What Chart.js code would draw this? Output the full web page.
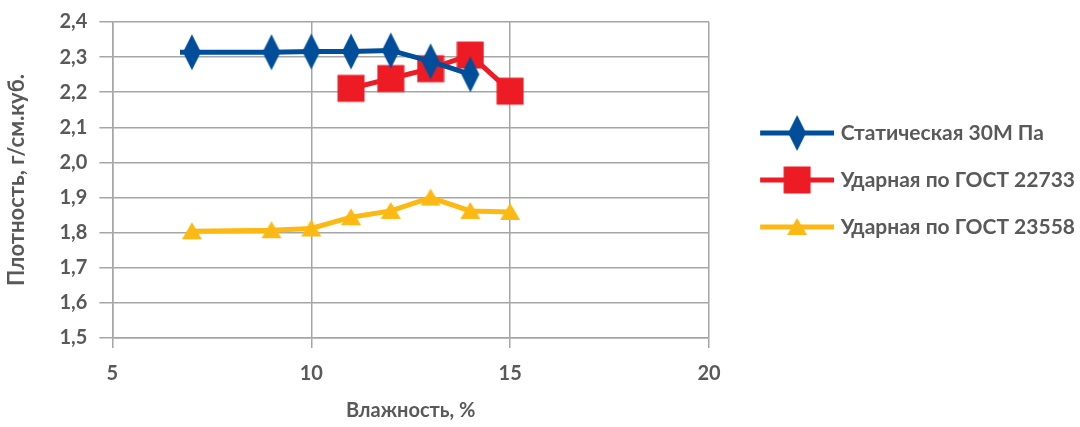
<!DOCTYPE html>
<html>
<head>
<meta charset="utf-8">
<script src="https://cdn.jsdelivr.net/npm/chart.js@4.4.0/dist/chart.umd.min.js"></script>
<style>
  html, body { margin: 0; padding: 0; background: #fff; }
  #wrap { width: 1080px; height: 427px; }
</style>
</head>
<body>
<div id="wrap"><canvas id="chart" width="1080" height="427"></canvas></div>
<script>
/* --- данные --- */
const seriesNames = ["Статическая 30М Па", "Ударная по ГОСТ 22733", "Ударная по ГОСТ 23558"];

const staticX = [6.7, 7, 9, 10, 11, 12, 13, 14];
const staticY = [2.314, 2.314, 2.314, 2.316, 2.316, 2.319, 2.288, 2.251];

const gost22733X = [11, 12, 13, 14, 15];
const gost22733Y = [2.211, 2.239, 2.267, 2.306, 2.203];

const gost23558X = [7, 9, 10, 11, 12, 13, 14, 15];
const gost23558Y = [1.804, 1.807, 1.812, 1.844, 1.862, 1.900, 1.862, 1.859];

const xTicks = [5, 10, 15, 20];
const yTicks = [1.5, 1.6, 1.7, 1.8, 1.9, 2.0, 2.1, 2.2, 2.3, 2.4];

const xTitle = "Влажность, %";
const yTitle = "Плотность, г/см.куб.";

/* --- оформление --- */
const BLUE = "#004E9A";
const RED = "#ED1C24";
const YELLOW = "#FDB913";
const TEXT = "#595959";
const GRID = "#A6A6A6";
const TICK_FONT = { family: "Lato", size: 20, weight: "bold", lineHeight: 1 };
const XTITLE_FONT = { family: "Lato", size: 20, weight: "bold", lineHeight: 1 };
const YTITLE_FONT = { family: "Lato", size: 22, weight: "bold" };
const LEGEND_FONT = { family: "Lato", size: 21, weight: "bold" };

/* ------- маркеры ------- */
function drawMarker(ctx, kind, cx, cy, color) {
    ctx.fillStyle = color;
    ctx.beginPath();
    if (kind === "diamond") {
        ctx.moveTo(cx, cy - 18);
        ctx.lineTo(cx + 9, cy);
        ctx.lineTo(cx, cy + 18);
        ctx.lineTo(cx - 9, cy);
    } else if (kind === "square") {
        ctx.rect(cx - 13.5, cy - 13.5, 27, 27);
    } else {
        ctx.moveTo(cx, cy - 9);
        ctx.lineTo(cx + 10, cy + 8);
        ctx.lineTo(cx - 10, cy + 8);
    }
    ctx.closePath();
    ctx.fill();
}

function markerCanvas(kind, color) {
    const c = document.createElement("canvas");
    c.width = 28;
    c.height = 38;
    drawMarker(c.getContext("2d"), kind, 14, 19, color);
    return c;
}

/* ширина значка легенды: подгоняем так, чтобы область графика кончалась у x=20 */
const measure = document.createElement("canvas").getContext("2d");
measure.font = "bold 21px Lato";
const longest = Math.max(...seriesNames.map(s => measure.measureText(s).width));
const LEGEND_PAD = 26;
const RIGHT_PAD = -5;
const legendBoxW = (1080 - RIGHT_PAD - 709) - LEGEND_PAD - LEGEND_FONT.size / 2 - 10 - longest;

function legendIcon(kind, color) {
    const w = Math.round(legendBoxW + 8);
    const c = document.createElement("canvas");
    c.width = w;
    c.height = 40;
    const ctx = c.getContext("2d");
    ctx.strokeStyle = color;
    ctx.lineWidth = 5;
    ctx.beginPath();
    ctx.moveTo(w - 74, 20);
    ctx.lineTo(w, 20);
    ctx.stroke();
    drawMarker(ctx, kind, w - 37, 20, color);
    return c;
}

const kinds = ["diamond", "square", "triangle"];
const colors = [BLUE, RED, YELLOW];
const legendIcons = kinds.map((k, i) => legendIcon(k, colors[i]));

function toPoints(xs, ys) {
    return xs.map((x, i) => ({ x: x, y: ys[i] }));
}

const fmt = v => Number(v).toFixed(1).replace(".", ",");

new Chart(document.getElementById("chart"), {
    type: "scatter",
    data: {
        datasets: [
            {
                label: seriesNames[0],
                data: toPoints(staticX, staticY),
                showLine: true,
                borderColor: BLUE,
                backgroundColor: BLUE,
                borderWidth: 5,
                pointStyle: markerCanvas("diamond", BLUE),
                pointRadius: ctx => (ctx.dataIndex === 0 ? 0 : 9)
            },
            {
                label: seriesNames[1],
                data: toPoints(gost22733X, gost22733Y),
                showLine: true,
                borderColor: RED,
                backgroundColor: RED,
                borderWidth: 5,
                pointStyle: markerCanvas("square", RED),
                pointRadius: 9
            },
            {
                label: seriesNames[2],
                data: toPoints(gost23558X, gost23558Y),
                showLine: true,
                borderColor: YELLOW,
                backgroundColor: YELLOW,
                borderWidth: 5,
                pointStyle: markerCanvas("triangle", YELLOW),
                pointRadius: 9
            }
        ]
    },
    options: {
        responsive: false,
        animation: false,
        events: [],
        layout: { padding: { top: 21, left: 0, right: RIGHT_PAD, bottom: 0 } },
        scales: {
            x: {
                type: "linear",
                min: xTicks[0],
                max: xTicks[xTicks.length - 1],
                afterBuildTicks: s => { s.ticks = xTicks.map(v => ({ value: v })); },
                ticks: { color: TEXT, font: TICK_FONT, padding: 16, maxRotation: 0 },
                grid: { color: GRID, lineWidth: 1.5, tickLength: 10, drawTicks: true },
                border: { color: GRID, width: 1.5 },
                title: { display: true, text: xTitle, color: TEXT, font: XTITLE_FONT, padding: { top: 0.5, bottom: 6.5 } }
            },
            y: {
                type: "linear",
                min: yTicks[0],
                max: yTicks[yTicks.length - 1],
                afterBuildTicks: s => { s.ticks = yTicks.map(v => ({ value: v })); },
                ticks: { color: TEXT, font: TICK_FONT, padding: 12, callback: fmt },
                grid: { color: GRID, lineWidth: 1.5, tickLength: 13, drawTicks: true },
                border: { color: GRID, width: 1.5 },
                title: { display: true, text: yTitle, color: TEXT, font: YTITLE_FONT, padding: { top: 3.8, bottom: 17.3 } }
            }
        },
        plugins: {
            tooltip: { enabled: false },
            legend: {
                position: "right",
                align: "center",
                fullSize: false,
                maxWidth: 450,
                labels: {
                    usePointStyle: true,
                    pointStyleWidth: legendBoxW,
                    padding: LEGEND_PAD,
                    color: TEXT,
                    font: LEGEND_FONT,
                    generateLabels(chart) {
                        const items = Chart.defaults.plugins.legend.labels.generateLabels(chart);
                        items.forEach((it, i) => {
                            it.pointStyle = legendIcons[i];
                            it.rotation = 0;
                        });
                        return items;
                    }
                }
            }
        }
    }
});
</script>
</body>
</html>
